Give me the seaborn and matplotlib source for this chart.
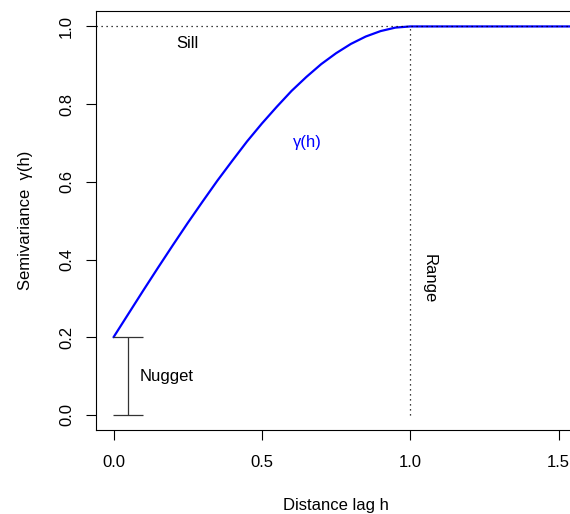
import matplotlib
matplotlib.use("Agg")
import matplotlib.pyplot as plt
import seaborn as sns
import pandas as pd

# values
lag_h = [0.00, 0.05, 0.10, 0.15, 0.20, 0.25, 0.30, 0.35, 0.40, 0.45, 0.50,
         0.55, 0.60, 0.65, 0.70, 0.75, 0.80, 0.85, 0.90, 0.95, 1.00, 1.30, 1.60]
gamma_h = [0.200, 0.260, 0.320, 0.379, 0.437, 0.494, 0.549, 0.603, 0.654, 0.704, 0.750,
           0.793, 0.834, 0.870, 0.903, 0.931, 0.955, 0.974, 0.988, 0.997, 1.000, 1.000, 1.000]
nugget = 0.2
sill = 1.0
range_h = 1.0

sns.set_theme(style="white")
plt.rcParams["font.family"] = ["Liberation Sans", "DejaVu Sans"]
plt.rcParams["text.color"] = "black"
plt.rcParams["axes.labelcolor"] = "black"
plt.rcParams["xtick.color"] = "black"
plt.rcParams["ytick.color"] = "black"

df = pd.DataFrame({"h": lag_h, "gamma": gamma_h})

fig = plt.figure(figsize=(5.70, 5.14), dpi=100)
ax = fig.add_axes([0.1679, 0.1625, 0.8433, 0.8163])

sns.lineplot(data=df, x="h", y="gamma", color="#0000FF", linewidth=1.6, ax=ax)

# sill and range guides
ax.axhline(sill, color="black", linewidth=0.9, linestyle=(0, (1, 3)))
ax.plot([range_h, range_h], [0, sill], color="black", linewidth=0.9, linestyle=(0, (1, 3)))

# nugget bar
ax.errorbar([0.05], [nugget / 2], yerr=[[nugget / 2], [nugget / 2]], color="#333333",
            elinewidth=0.9, capsize=10.8, capthick=0.9, fmt="none")

ax.text(0.25, 0.955, "Sill", fontsize=12, ha="center", va="center")
ax.text(0.18, 0.10, "Nugget", fontsize=12, ha="center", va="center")
ax.text(0.655, 0.70, "γ(h)", fontsize=12, ha="center", va="center", color="#0000FF")
ax.text(1.065, 0.35, "Range", fontsize=12, ha="center", va="center", rotation=-90)

ax.set_xlim(-0.06, 1.56)
ax.set_ylim(-0.04, 1.04)
ax.set_xticks([0.0, 0.5, 1.0, 1.5])
ax.set_xticklabels(["0.0", "0.5", "1.0", "1.5"])
ax.set_yticks([0.0, 0.2, 0.4, 0.6, 0.8, 1.0])
ax.set_yticklabels(["0.0", "0.2", "0.4", "0.6", "0.8", "1.0"], rotation=90, va="center")
ax.tick_params(axis="both", direction="out", length=7, width=0.8,
               labelsize=12, bottom=True, left=True)
ax.tick_params(axis="x", pad=10.5)
ax.tick_params(axis="y", pad=8.5)

ax.set_xlabel("Distance lag h", fontsize=12, labelpad=20)
ax.set_ylabel("Semivariance  γ(h)", fontsize=12, labelpad=19)

for s in ax.spines.values():
    s.set_color("black")
    s.set_linewidth(0.8)

fig.savefig("out.png", dpi=100)
